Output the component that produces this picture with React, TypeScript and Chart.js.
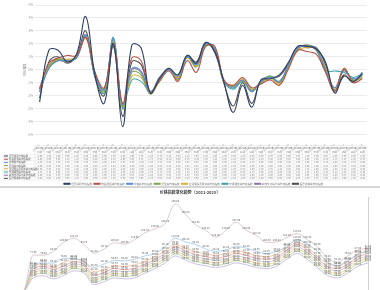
import React, { useEffect, useRef } from 'react';
import { Chart, registerables } from 'chart.js';

Chart.register(...registerables);

const FONT = '"Noto Sans CJK SC", "Noto Sans", sans-serif';
Chart.defaults.font.family = FONT;

const MONTHS = [
  '2021-01', '2021-02', '2021-03', '2021-04', '2021-05', '2021-06', '2021-07', '2021-08', '2021-09', '2021-10', '2021-11', '2021-12',
  '2022-01', '2022-02', '2022-03', '2022-04', '2022-05', '2022-06', '2022-07', '2022-08', '2022-09', '2022-10', '2022-11', '2022-12',
  '2023-01', '2023-02', '2023-03', '2023-04', '2023-05', '2023-06', '2023-07', '2023-08', '2023-09', '2023-10', '2023-11', '2023-12',
];

const SERIES_NAMES = [
  '居民消费价格指数',
  '食品烟酒类价格指数',
  '衣着类价格指数',
  '居住类价格指数',
  '生活用品及服务类价格指数',
  '交通通信类价格指数',
  '教育文化娱乐类价格指数',
  '医疗保健类价格指数',
];

const TOP_COLORS = ['#2f3f66', '#b5524a', '#5b8fd0', '#7fa650', '#d9b23a', '#3fa3a8', '#8c74b0', '#4d4d4d'];
const BOTTOM_COLORS = ['#d8c4c4', '#a8cbe8', '#f3c19a', '#f2a7a7', '#c9c9c9', '#ecd58f', '#b9d7a3', '#c7b8dc'];

const Y_AXIS_TITLE = '环比涨跌';
const BOTTOM_TITLE = '价格指数变化趋势（2021-2023）';

// month-on-month change (%)
const CHANGE_1 = [-2.5, 1.5, 1.5, 0.6, 1.2, 4.1, -0.4, -2.6, 2.0, -4.4, 1.9, 1.7, -1.8, -0.7, 0.1, -0.4, 1.1, 0.5, 2.1, 1.4, -1.0, -3.3, -1.2, -2.9, -0.8, -0.7, -0.4, 0.6, 1.8, 1.8, 1.6, 0.6, -1.8, -0.5, -0.9, -0.3];
const CHANGE_2 = [-1.5, 0.5, 0.9, 1.1, 1.1, 2.5, -0.2, -1.4, 2.0, -2.6, 0.9, 0.7, -1.7, -0.9, -0.1, -0.9, 0.7, -0.2, 1.8, 1.8, -0.8, -1.2, -0.6, -1.4, -1.1, -0.8, -1.2, 0.1, 1.5, 1.4, 1.2, -0.2, -1.7, 0.1, -1.0, -0.7];
const CHANGE_3 = [-1.7, 0.1, 0.7, 0.7, 0.9, 2.7, -0.4, -1.5, 2.4, -2.7, 0.1, -0.1, -1.8, -0.7, 0.0, -0.5, 1.0, 0.4, 2.0, 1.6, -0.9, -1.4, -0.8, -1.7, -0.9, -0.6, -0.9, 0.4, 1.7, 1.8, 1.6, -0.1, -1.4, -0.1, -0.7, -0.4];
const CHANGE_4 = [-1.4, 0.3, 0.8, 0.6, 1.0, 2.5, -0.2, -1.7, 2.1, -2.9, -0.2, -0.4, -1.9, -0.8, 0.1, -0.8, 1.0, 0.2, 1.9, 1.5, -1.0, -1.3, -0.9, -1.6, -1.0, -0.5, -1.0, 0.3, 1.6, 1.9, 1.5, 0.1, -1.6, 0.0, -0.8, -0.6];
const CHANGE_5 = [-1.6, 0.2, 0.8, 0.8, 1.0, 2.4, -0.3, -1.5, 2.2, -2.8, -0.5, -0.6, -1.8, -0.9, 0.0, -0.6, 0.9, 0.3, 1.8, 1.7, -0.9, -1.2, -0.7, -1.5, -1.0, -0.7, -1.1, 0.2, 1.5, 1.7, 1.6, 0.0, -1.5, 0.1, -0.9, -0.5];
const CHANGE_6 = [-1.7, 0.1, 0.9, 0.7, 0.9, 2.6, -0.5, -1.8, 2.5, -3.0, -0.8, -0.9, -1.7, -0.7, 0.0, -0.4, 1.1, 0.4, 2.0, 1.6, -0.9, -1.5, -0.9, -1.7, -0.9, -0.5, -0.9, 0.4, 1.7, 1.8, 1.5, -0.1, -0.1, -0.2, -0.6, -0.3];
const CHANGE_7 = [-1.5, 0.2, 0.7, 0.6, 1.0, 2.7, -0.3, -1.6, 2.3, -2.7, 0.0, -0.2, -1.8, -0.8, 0.0, -0.7, 1.0, 0.3, 1.9, 1.5, -0.9, -1.3, -0.8, -1.6, -1.0, -0.6, -1.0, 0.3, 1.6, 1.9, 1.6, 0.1, -1.4, 0.0, -0.8, -0.4];
const CHANGE_8 = [-2.2, 0.6, 1.0, 0.5, 1.1, 3.0, -0.6, -2.0, 1.8, -3.6, 0.6, 0.4, -1.8, -0.6, 0.0, -0.6, 1.1, 0.6, 2.1, 1.3, -1.1, -2.8, -1.0, -2.6, -0.8, -0.6, -0.5, 0.5, 1.8, 1.7, 1.7, 0.4, -1.6, -0.4, -1.0, -0.2];

// index level
const INDEX_1 = [0, 0, 77.3, 76.8, 85.2, 104.6, 113.1, 99.7, 81.4, 90.2, 103.8, 100.5, 110.3, 124.7, 133.9, 145.2, 186.8, 164.5, 142.3, 130.1, 115.4, 129.8, 147.6, 130.4, 119.2, 104.3, 105.1, 114.8, 123.2, 110.4, 95.3, 70.2, 62.4, 75.1, 87.9, 91.2];
const INDEX_2 = [0, 0, 55.2, 60.4, 59.8, 70.3, 69.7, 62.1, 50.4, 58.2, 65.3, 64.8, 68.1, 75.4, 80.2, 95.1, 113.4, 105.2, 99.8, 90.3, 85.1, 88.2, 95.4, 92.1, 85.3, 80.2, 85.1, 95.3, 110.2, 100.4, 85.2, 62.3, 55.1, 65.2, 78.4, 85.1];
const INDEX_3 = [0, 0, 52.6, 58.1, 51.4, 61.2, 68.3, 63.5, 41.2, 45.8, 53.7, 52.9, 56.1, 63.4, 73.8, 86.5, 99.2, 91.7, 84.6, 79.3, 76.8, 80.4, 85.9, 82.7, 75.6, 73.9, 79.4, 92.8, 104.6, 93.7, 75.2, 59.6, 53.8, 63.7, 79.5, 86.2];
const INDEX_4 = [0, 0, 47.5, 52.8, 46.9, 53.4, 62.7, 57.6, 34.1, 39.7, 48.3, 45.6, 48.9, 57.2, 67.8, 80.4, 94.6, 86.3, 78.5, 73.6, 70.2, 73.8, 80.6, 76.1, 69.7, 68.4, 72.5, 87.3, 99.8, 88.6, 70.1, 52.7, 48.3, 57.6, 72.8, 80.5];
const INDEX_5 = [0, 0, 43.8, 47.6, 40.5, 48.7, 57.9, 53.2, 28.6, 34.5, 43.1, 41.7, 42.6, 52.9, 63.5, 75.2, 89.6, 81.4, 72.8, 69.5, 65.3, 68.7, 75.1, 71.4, 64.8, 62.7, 68.3, 82.6, 95.4, 82.7, 65.4, 48.2, 43.6, 52.8, 67.9, 75.3];
const INDEX_6 = [0, 0, 37.9, 43.4, 36.2, 42.8, 53.6, 47.5, 23.4, 30.6, 37.8, 36.4, 38.5, 47.6, 58.3, 70.4, 84.7, 76.2, 68.4, 63.8, 60.5, 64.2, 69.8, 66.3, 60.1, 57.6, 63.4, 77.8, 90.2, 78.4, 60.3, 43.5, 37.8, 48.2, 62.7, 70.4];
const INDEX_7 = [0, 0, 33.2, 38.5, 31.4, 38.1, 48.3, 42.7, 18.5, 25.3, 32.8, 31.2, 33.4, 42.8, 53.1, 65.4, 79.8, 71.3, 63.2, 59.4, 55.3, 58.7, 65.2, 61.4, 55.2, 52.8, 58.3, 72.6, 85.4, 73.2, 55.1, 38.4, 33.2, 43.1, 58.4, 65.2];
const INDEX_8 = [0, 0, 28.4, 32.7, 26.1, 33.5, 43.2, 38.4, 13.6, 20.2, 28.3, 26.1, 28.4, 38.2, 48.3, 60.1, 75.2, 66.4, 58.1, 54.3, 50.2, 54.1, 60.3, 56.2, 50.4, 48.1, 53.2, 68.1, 80.3, 68.2, 50.3, 33.2, 28.1, 38.4, 53.2, 60.1];

const CHANGES = [CHANGE_1, CHANGE_2, CHANGE_3, CHANGE_4, CHANGE_5, CHANGE_6, CHANGE_7, CHANGE_8];
const INDEXES = [INDEX_1, INDEX_2, INDEX_3, INDEX_4, INDEX_5, INDEX_6, INDEX_7, INDEX_8];

const TABLE_H = 35;
const HEAD_H = 9;
const ROW_H = 3.2;

const dataTablePlugin = {
  id: 'dataTable',
  afterDraw(chart: any) {
    const { ctx, scales } = chart;
    const xs = scales.x;
    const n = MONTHS.length;
    const cw = xs.getPixelForValue(1) - xs.getPixelForValue(0);
    const left0 = xs.getPixelForValue(0) - cw / 2;
    const right = xs.getPixelForValue(n - 1) + cw / 2;
    const top = xs.bottom - TABLE_H;
    const rows = chart.data.datasets.length;
    const bottom = top + HEAD_H + rows * ROW_H;
    ctx.save();
    ctx.strokeStyle = '#dcdcdc';
    ctx.lineWidth = 0.5;
    ctx.beginPath();
    ctx.moveTo(left0, top);
    ctx.lineTo(right, top);
    for (let r = 0; r <= rows; r++) {
      const y = top + HEAD_H + r * ROW_H;
      ctx.moveTo(3, y);
      ctx.lineTo(right, y);
    }
    for (let i = 0; i <= n; i++) {
      const x = left0 + i * cw;
      ctx.moveTo(x, top);
      ctx.lineTo(x, bottom);
    }
    ctx.moveTo(3, top + HEAD_H);
    ctx.lineTo(3, bottom);
    ctx.stroke();

    ctx.textAlign = 'center';
    ctx.textBaseline = 'middle';
    ctx.fillStyle = '#6e6e6e';
    ctx.font = `2.4px ${FONT}`;
    for (let i = 0; i < n; i++) {
      const cx = xs.getPixelForValue(i);
      const [yy, mm] = MONTHS[i].split('-');
      ctx.fillText(yy + '年', cx, top + 3);
      ctx.fillText(mm + '月', cx, top + 6.2);
    }
    chart.data.datasets.forEach((ds: any, d: number) => {
      const y = top + HEAD_H + (d + 0.5) * ROW_H;
      ctx.strokeStyle = ds.borderColor;
      ctx.lineWidth = 1;
      ctx.beginPath();
      ctx.moveTo(4, y);
      ctx.lineTo(8, y);
      ctx.stroke();
      ctx.textAlign = 'left';
      ctx.fillStyle = '#555';
      ctx.fillText(ds.label, 9, y);
      ctx.textAlign = 'center';
      ctx.fillStyle = '#777';
      ds.data.forEach((v: number, i: number) => {
        ctx.fillText(v.toFixed(2), xs.getPixelForValue(i), y);
      });
    });
    ctx.restore();
  },
};

const pointLabelPlugin = {
  id: 'pointLabels',
  afterDatasetsDraw(chart: any) {
    const { ctx } = chart;
    ctx.save();
    ctx.font = `2.6px ${FONT}`;
    ctx.fillStyle = '#5a5a5a';
    ctx.textAlign = 'center';
    ctx.textBaseline = 'bottom';
    chart.data.datasets.forEach((ds: any, di: number) => {
      const meta = chart.getDatasetMeta(di);
      meta.data.forEach((pt: any, i: number) => {
        const v = ds.data[i] as number;
        if (!v) return;
        ctx.fillText(v.toFixed(2), pt.x, pt.y - 1.2);
      });
    });
    ctx.restore();
  },
};

export default function App() {
  const topRef = useRef<HTMLCanvasElement | null>(null);
  const botRef = useRef<HTMLCanvasElement | null>(null);

  useEffect(() => {
    const top = new Chart(topRef.current as HTMLCanvasElement, {
      type: 'line',
      data: {
        labels: MONTHS,
        datasets: CHANGES.map((d, i) => ({
          label: SERIES_NAMES[i],
          data: d,
          borderColor: TOP_COLORS[i],
          backgroundColor: TOP_COLORS[i],
          borderWidth: 1.1,
          pointRadius: 0,
          tension: 0.4,
          fill: false,
        })),
      },
      options: {
        animation: false,
        responsive: false,
        events: [],
        layout: { padding: { left: 20, right: 13, top: 5, bottom: 0 } },
        plugins: {
          legend: {
            position: 'bottom',
            labels: { font: { size: 2.6 }, color: '#777', boxWidth: 6, boxHeight: 1, padding: 2 },
          },
          tooltip: { enabled: false },
        },
        scales: {
          x: {
            offset: true,
            grid: { display: false },
            border: { display: false },
            ticks: { font: { size: 2.5 }, color: '#9a9a9a', minRotation: 45, maxRotation: 45, autoSkip: false, padding: 1 },
            afterFit: (s: any) => { s.height = 46; },
          },
          y: {
            min: -5,
            max: 5,
            ticks: { stepSize: 1, font: { size: 3 }, color: '#9a9a9a', padding: 2, callback: (v: any) => v + '%' },
            grid: { color: '#ebebeb', drawTicks: false },
            border: { display: false },
            title: { display: true, text: Y_AXIS_TITLE, font: { size: 3 }, color: '#777', padding: { top: 3, bottom: 0 } },
            afterFit: (s: any) => { s.width = 15; },
          },
        },
      } as any,
      plugins: [dataTablePlugin],
    });

    const bot = new Chart(botRef.current as HTMLCanvasElement, {
      type: 'line',
      data: {
        labels: MONTHS,
        datasets: INDEXES.map((d, i) => ({
          label: SERIES_NAMES[i],
          data: d,
          borderColor: BOTTOM_COLORS[i],
          backgroundColor: BOTTOM_COLORS[i],
          borderWidth: 0.9,
          pointRadius: 0,
          cubicInterpolationMode: 'monotone',
          fill: false,
        })),
      },
      options: {
        animation: false,
        responsive: false,
        events: [],
        layout: { padding: { left: 12, right: 12, top: 0, bottom: 0 } },
        plugins: {
          legend: { display: false },
          tooltip: { enabled: false },
          title: {
            display: true,
            text: BOTTOM_TITLE,
            font: { size: 4, weight: 'bold' },
            color: '#404040',
            padding: { top: 2, bottom: 3 },
          },
        },
        scales: {
          x: {
            grid: { display: false },
            border: { color: '#d9d9d9' },
            ticks: { font: { size: 2.5 }, color: '#9a9a9a', minRotation: 45, maxRotation: 45, autoSkip: false },
            afterFit: (s: any) => { s.height = 23; },
          },
          y: {
            min: 0,
            max: 200,
            ticks: { stepSize: 10, font: { size: 2.5 }, color: '#a8a8a8', padding: 2 },
            grid: { display: false },
            border: { display: false },
            afterFit: (s: any) => { s.width = 1; },
          },
          y2: {
            position: 'right',
            min: 0,
            max: 200,
            grid: { display: false, drawTicks: false },
            ticks: { display: false },
            border: { display: true, color: '#d0d0d0' },
            afterFit: (s: any) => { s.width = 0; },
          },
        },
      } as any,
      plugins: [pointLabelPlugin],
    });

    return () => {
      top.destroy();
      bot.destroy();
    };
  }, []);

  return (
    <div style={{ position: 'fixed', left: 0, top: 0, width: 380, height: 290, overflow: 'hidden', background: '#fff' }}>
      <canvas ref={topRef} width={380} height={195} style={{ position: 'absolute', left: 0, top: 0 }} />
      <div style={{ position: 'absolute', left: 0, top: 188, width: 380, height: 110, background: '#fff' }}>
        <canvas ref={botRef} width={380} height={126} style={{ display: 'block' }} />
      </div>
      <div style={{ position: 'absolute', left: 0, top: 186, width: 380, height: 2, background: '#d6d6d6' }} />
    </div>
  );
}
